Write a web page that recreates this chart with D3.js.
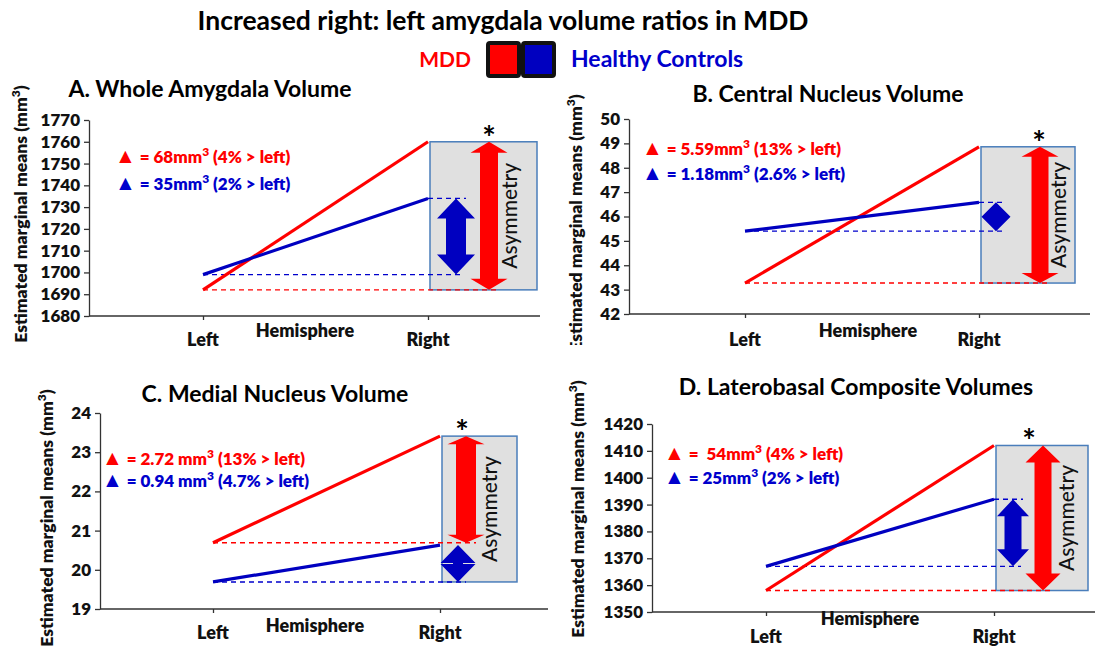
<!DOCTYPE html>
<html>
<head>
<meta charset="utf-8">
<script src="https://cdn.jsdelivr.net/npm/d3@7"></script>
<style>
  body { margin: 0; background: #fff; }
  text { font-family: Lato, "Open Sans", sans-serif; white-space: pre; }
</style>
</head>
<body>
<script>
// ---- data ----
const mainTitle = "Increased right: left amygdala volume ratios in MDD";
const legendLabels = ["MDD", "Healthy Controls"];
const hemispheres = ["Left", "Right"];
const axisTitleX = "Hemisphere";
const axisTitleY = "Estimated marginal means (mm³)";
const asymLabel = "Asymmetry";

const panelTitles = [
    "A. Whole Amygdala Volume",
    "B. Central Nucleus Volume",
    "C. Medial Nucleus Volume",
    "D. Laterobasal Composite Volumes"
];

// [Left, Right] estimated marginal means
const mddMeans = [[1692, 1760], [43.27, 48.86], [20.69, 23.41], [1358, 1412]];
const hcMeans = [[1699, 1734], [45.40, 46.58], [19.69, 20.63], [1367, 1392]];

const yTickValues = [
    [1680, 1690, 1700, 1710, 1720, 1730, 1740, 1750, 1760, 1770],
    [42, 43, 44, 45, 46, 47, 48, 49, 50],
    [19, 20, 21, 22, 23, 24],
    [1350, 1360, 1370, 1380, 1390, 1400, 1410, 1420]
];

const mddNotes = ["▲ = 68mm³ (4% > left)", "▲ = 5.59mm³ (13% > left)", "▲ = 2.72 mm³ (13% > left)", "▲ =  54mm³ (4% > left)"];
const hcNotes = ["▲ = 35mm³ (2% > left)", "▲ = 1.18mm³ (2.6% > left)", "▲ = 0.94 mm³ (4.7% > left)", "▲ = 25mm³ (2% > left)"];

// ---- layout (pixels) ----
const RED = "#ff0000", BLUE = "#0000cc";
const panels = [
    { ax: 89, yBot: 316, yTop: 120, xl: 203, xr: 428, xEnd: 540, tx: 210, ty: 97,
      noteX: 115, noteY: [163, 190], labX: 27, labY: 214, clip: null,
      catY: 346, hemX: 305, hemY: 337,
      boxW: 107, redDx: 59, blueDx: 26, starDx: 59, textDx: 87, hcTopDash: true,
      red: [18, 37, 11], blue: [20, 38, 20] },
    { ax: 629, yBot: 314, yTop: 119, xl: 745, xr: 979, xEnd: 1090, tx: 828, ty: 102,
      noteX: 642, noteY: [155, 180], labX: 582, labY: 223, clip: [80, 345],
      catY: 346, hemX: 868, hemY: 337,
      boxW: 94, redDx: 59, blueDx: 15, starDx: 58, textDx: 85, hcTopDash: true,
      red: [17, 37, 10], blue: [0, 29, 16] },
    { ax: 100, yBot: 609, yTop: 413, xl: 213, xr: 440, xEnd: 548, tx: 275, ty: 402,
      noteX: 102, noteY: [465, 487], labX: 53, labY: 518, clip: null,
      catY: 639, hemX: 315, hemY: 632,
      boxW: 75, redDx: 24, blueDx: 16, starDx: 20, textDx: 55, hcTopDash: false,
      red: [20, 37, 8], blue: [10, 35, 18] },
    { ax: 652, yBot: 612, yTop: 424, xl: 766, xr: 994, xEnd: 1095, tx: 856, ty: 395,
      noteX: 664, noteY: [460, 484], labX: 584, labY: 509, clip: [379, 657],
      catY: 643, hemX: 870, hemY: 625,
      boxW: 92, redDx: 47, blueDx: 17, starDx: 33, textDx: 78, hcTopDash: true,
      red: [17, 35, 17], blue: [17, 32, 17] }
];

const svg = d3.select("body").append("svg")
    .attr("width", 1097)
    .attr("height", 657);

// main title + legend
svg.append("text")
    .attr("x", 503).attr("y", 30)
    .attr("text-anchor", "middle")
    .attr("font-size", 26.5).attr("font-weight", "bold")
    .text(mainTitle);

svg.append("text")
    .attr("x", 471).attr("y", 67)
    .attr("text-anchor", "end")
    .attr("font-size", 21).attr("font-weight", "bold")
    .attr("fill", RED)
    .text(legendLabels[0]);

[RED, "#0000c0"].forEach((c, i) => {
    svg.append("rect")
        .attr("x", 488 + i * 35).attr("y", 43)
        .attr("width", 31).attr("height", 33)
        .attr("rx", 2)
        .attr("fill", c)
        .attr("stroke", "#111").attr("stroke-width", 4);
});

svg.append("text")
    .attr("x", 571).attr("y", 67)
    .attr("font-size", 23).attr("font-weight", "bold")
    .attr("fill", BLUE)
    .text(legendLabels[1]);

// double headed arrow path
function doubleArrow(cx, y1, y2, shaftW, headW, headL) {
    const top = Math.min(y1, y2), bot = Math.max(y1, y2);
    const hl = Math.min(headL, (bot - top) / 2);
    const s = shaftW / 2, h = headW / 2;
    const pts = [
        [cx, top], [cx + h, top + hl], [cx + s, top + hl], [cx + s, bot - hl],
        [cx + h, bot - hl], [cx, bot], [cx - h, bot - hl], [cx - s, bot - hl],
        [cx - s, top + hl], [cx - h, top + hl]
    ];
    return "M" + pts.map(p => p.join(",")).join("L") + "Z";
}

// text with a raised "3" (and an enlarged leading triangle)
function supText(sel, str, supSize, rise) {
    let rest = str;
    if (rest.startsWith("▲")) {
        sel.append("tspan").attr("font-size", 21).text("▲");
        rest = rest.slice(1);
    }
    const parts = rest.split("³");
    sel.append("tspan").text(parts[0]);
    sel.append("tspan").attr("dy", -rise).attr("font-size", supSize).text("3");
    sel.append("tspan").attr("dy", rise).text(parts[1]);
}

panels.forEach((L, i) => {
    const g = svg.append("g");
    const mdd = mddMeans[i], hc = hcMeans[i];

    const y = d3.scaleLinear()
        .domain(d3.extent(yTickValues[i]))
        .range([L.yBot, L.yTop]);
    const x = d3.scalePoint()
        .domain(hemispheres)
        .range([L.xl, L.xr]);

    // panel title
    g.append("text")
        .attr("x", L.tx).attr("y", L.ty)
        .attr("text-anchor", "middle")
        .attr("font-size", 23).attr("font-weight", "bold")
        .text(panelTitles[i]);

    // Y axis
    const ya = g.append("g")
        .attr("transform", `translate(${L.ax},0)`)
        .call(d3.axisLeft(y).tickValues(yTickValues[i]).tickFormat(d => d)
            .tickSize(5).tickSizeOuter(0).tickPadding(4));
    ya.attr("font-size", 17).attr("font-family", "Lato").attr("font-weight", 800);
    ya.selectAll("path, line").attr("stroke", "#333").attr("stroke-width", 1.3);
    ya.selectAll("text").attr("fill", "#111");

    // X axis
    const xa = g.append("g")
        .attr("transform", `translate(0,${L.yBot})`)
        .call(d3.axisBottom(x).tickSize(4).tickFormat(""));
    xa.select(".domain").remove();
    xa.selectAll("line").attr("stroke", "#333").attr("stroke-width", 1.3);
    g.append("line")
        .attr("x1", L.ax).attr("x2", L.xEnd)
        .attr("y1", L.yBot).attr("y2", L.yBot)
        .attr("stroke", "#333").attr("stroke-width", 1.3);

    g.selectAll(".cat")
        .data(hemispheres)
        .join("text")
        .attr("x", d => x(d)).attr("y", L.catY)
        .attr("text-anchor", "middle")
        .attr("font-size", 18).attr("font-weight", 800)
        .attr("fill", "#111")
        .text(d => d);

    g.append("text")
        .attr("x", L.hemX).attr("y", L.hemY)
        .attr("text-anchor", "middle")
        .attr("font-size", 18).attr("font-weight", 800)
        .attr("fill", "#111")
        .text(axisTitleX);

    // Y axis title (clipped where the original cuts it)
    const labG = g.append("g");
    const lab = labG.append("text")
        .attr("transform", `translate(${L.labX},${L.labY}) rotate(-90)`)
        .attr("text-anchor", "middle")
        .attr("font-size", 17.5).attr("font-weight", 800)
        .attr("fill", "#111");
    supText(lab, axisTitleY, 12, 7);
    if (L.clip) {
        const id = "clip" + i;
        svg.append("clipPath").attr("id", id)
            .append("rect")
            .attr("x", 0).attr("y", L.clip[0])
            .attr("width", 1097).attr("height", L.clip[1] - L.clip[0]);
        labG.attr("clip-path", `url(#${id})`);
    }

    // asymmetry box
    const boxX = x("Right") + 2;
    const boxTop = y(Math.max(mdd[1], hc[1]));
    const boxBot = y(Math.min(mdd[0], hc[0]));
    g.append("rect")
        .attr("x", boxX).attr("y", boxTop)
        .attr("width", L.boxW).attr("height", boxBot - boxTop)
        .attr("fill", "#e0e0e0")
        .attr("stroke", "#4a7ebb").attr("stroke-width", 1.5);

    // reference dashes
    const dashes = [
        { x1: x("Left"), x2: boxX + L.redDx + 10, v: mdd[0], c: RED },
        { x1: x("Left"), x2: boxX + L.blueDx + 8, v: hc[0], c: BLUE }
    ];
    if (L.hcTopDash) dashes.push({ x1: x("Right"), x2: boxX + L.blueDx + 10, v: hc[1], c: BLUE });
    g.selectAll(".dash")
        .data(dashes)
        .join("line")
        .attr("x1", d => d.x1).attr("x2", d => d.x2)
        .attr("y1", d => y(d.v)).attr("y2", d => y(d.v))
        .attr("stroke", d => d.c)
        .attr("stroke-width", 1.4)
        .attr("stroke-dasharray", "5,4");

    // group lines
    const line = d3.line().x((d, j) => x(hemispheres[j])).y(d => y(d));
    g.append("path").attr("d", line(mdd))
        .attr("fill", "none").attr("stroke", RED).attr("stroke-width", 3.2);
    g.append("path").attr("d", line(hc))
        .attr("fill", "none").attr("stroke", "#0000c0").attr("stroke-width", 3.2);

    // arrows
    g.append("path")
        .attr("d", doubleArrow(boxX + L.redDx, y(mdd[1]), y(mdd[0]), ...L.red))
        .attr("fill", RED);
    g.append("path")
        .attr("d", doubleArrow(boxX + L.blueDx, y(hc[1]), y(hc[0]), ...L.blue))
        .attr("fill", "#0000c0");

    g.append("text")
        .attr("x", boxX + L.starDx).attr("y", boxTop + 8)
        .attr("text-anchor", "middle")
        .attr("font-size", 32).attr("font-weight", "bold")
        .text("*");

    g.append("text")
        .attr("transform", `translate(${boxX + L.textDx},${(boxTop + boxBot) / 2}) rotate(-90)`)
        .attr("text-anchor", "middle")
        .attr("font-size", 21).attr("font-weight", 500)
        .attr("fill", "#111")
        .text(asymLabel);

    // delta notes
    [[mddNotes[i], RED], [hcNotes[i], BLUE]].forEach(([str, c], k) => {
        const t = g.append("text")
            .attr("x", L.noteX).attr("y", L.noteY[k])
            .attr("font-size", 17).attr("font-weight", 800)
            .attr("fill", c);
        supText(t, str, 12, 7);
    });
});
</script>
</body>
</html>
